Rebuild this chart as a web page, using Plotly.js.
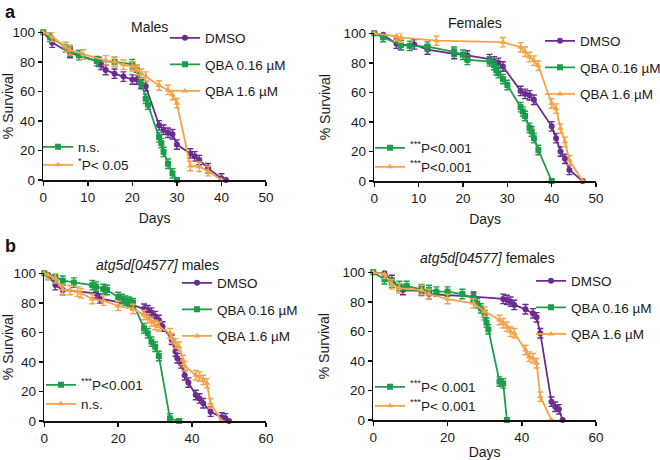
<!DOCTYPE html>
<html><head><meta charset="utf-8">
<script src="https://cdn.plot.ly/plotly-3.0.1.min.js"></script>
<style>html,body{margin:0;padding:0;background:#fff}#chart{width:660px;height:460px}</style>
</head><body><div id="chart"></div><script>
// ---- Panel a, Males ----
const maleDmsoDays = [0,2,6,12.5,13,14,16,18,20,21,22,23,26,27,28,29,30,33,34,35,37,40,41];
const maleDmsoSurv = [100,93,86,80,78,74.5,72,70,68,68,65,63.5,37,34,32,31,24,18,16,13.5,8,1,0];
const maleLowDays = [0,1.5,5,6,8,12,16,20,21,22,23,23.5,26,26.5,27,28,29,30];
const maleLowSurv = [100,97,90,87,84.5,80.5,80,78.5,74.5,66,55,51,29,25,19,11,4.5,0];
const maleHighDays = [0,2,5,6,9,14,16,18,20,21,22,23,26,28,29,30,33,35,37,40];
const maleHighSurv = [100,97,90,88,85,81,80,78,77,74.5,72,70,64,61,57.5,52,9.5,9,6,0];
// ---- Panel a, Females ----
const femDmsoDays = [0,2,5,6,9,12,18,21,26,27,28,29,33,34,35,36,40,41,42,43,44,47];
const femDmsoSurv = [100,99,93,92,92.5,89,86,85,82.5,81,80,77.5,61,59,58,55,37,29,20,15,7.5,0];
const femLowDays = [0,2,6,8,12,18,20,21,26,27,27.5,28,29,30,33,33.5,34,35,35.5,36,37,40];
const femLowSurv = [100,97.5,92,91.5,91,87.5,85.5,82,81,78.5,75,73,69,65,50,47,44,36,33.5,29,21,0];
const femHighDays = [0,5,6,14,29,33,34,35,36,37,40,41,42,43,44,47];
const femHighSurv = [100,98,97,95,94,90.5,87.5,84,81.5,78,52.5,49,35.5,26.5,14,0];
// ---- Panel b, atg5d males ----
const atgMaleDmsoDays = [0,1,3,5,14,15,24,27,28,29,30,31,32,34.5,35.5,36,37,38,39,41,42,43,45,48,49,50];
const atgMaleDmsoSurv = [100,99,92,88.7,86.5,83,78.5,76,75,73.4,71,68.4,64,55,47,42.5,39,31,26,17.6,15.3,12,6.3,2.5,1.8,0];
const atgMaleLowDays = [0,3,5,8,13,14,16,17,20,21,22,23,24,27,28,29,30,31,34,36.5];
const atgMaleLowSurv = [100,97.7,95,93.7,92,91,89.4,88.7,84,82.6,81.5,80.8,79.7,62.8,59.4,53.7,50.3,44,1.8,0];
const atgMaleHighDays = [0,1,3,5,7,9,10,13,16,20,24,27,28,29,30,31,34,34.5,35.5,36.5,37.5,38,41,42,43,44,45,48];
const atgMaleHighSurv = [100,99,96.6,89,88.7,87.6,86.5,82.6,81.5,77.9,75.8,71.8,69.5,67.3,65,64,59.4,56,52.6,50.3,41.3,37.2,31,30,27.8,25.5,12,0];
// ---- Panel b, atg5d females ----
const atgFemDmsoDays = [0,3,5,8,13,15,27,35,36,37,38,41,43,44,45,48,49,50,51];
const atgFemDmsoSurv = [100,99.3,94.8,88,87.4,85.3,83.5,82,81.3,80.1,77.9,75,72.2,69.5,58.7,12.4,9,7.2,0];
const atgFemLowDays = [0,3,5,7,9,13,15,17,20,24,27,28,29,30,30.5,31,34,35,36];
const atgFemLowSurv = [100,95.3,93,90.7,90.7,88.5,88,86.9,86.9,85.3,82.4,79,75.6,71,65.9,61.4,26,24.8,0];
const atgFemHighDays = [0,3,5,7,13,15,20,27,30,34,35,36,37,38,41,42,43,44,45,48];
const atgFemHighSurv = [100,98.9,91.9,89.2,88,85.3,81.9,79,73.4,67.7,65.5,63.2,59.8,58.7,47.4,42.9,41.8,38.4,15.8,0];

const seriesNames = ['DMSO', 'QBA 0.16 µM', 'QBA 1.6 µM'];
const statsLabels = [
  ['n.s.', '<sup>*</sup>P< 0.05'],
  ['<sup>***</sup>P<0.001', '<sup>***</sup>P<0.001'],
  ['<sup>***</sup>P<0.001', 'n.s.'],
  ['<sup>***</sup>P< 0.001', '<sup>***</sup>P< 0.001']
];
const panelTitles = ['Males', 'Females', '<i>atg5d[04577]</i> males', '<i>atg5d[04577]</i> females'];
const xTickSets = [[0,10,20,30,40,50],[0,10,20,30,40,50],[0,20,40,60],[0,20,40,60]];
const xMax = [50, 50, 60, 60];

const PURPLE = '#6a2c8f', GREEN = '#1a9e4a', ORANGE = '#f6a248';
const colors = [PURPLE, GREEN, ORANGE];
const symbols = ['circle', 'square', 'triangle-up'];
const FONT = 'Arial, "Liberation Sans", sans-serif';

const panels = [
  [[maleDmsoDays, maleDmsoSurv],[maleLowDays, maleLowSurv],[maleHighDays, maleHighSurv]],
  [[femDmsoDays, femDmsoSurv],[femLowDays, femLowSurv],[femHighDays, femHighSurv]],
  [[atgMaleDmsoDays, atgMaleDmsoSurv],[atgMaleLowDays, atgMaleLowSurv],[atgMaleHighDays, atgMaleHighSurv]],
  [[atgFemDmsoDays, atgFemDmsoSurv],[atgFemLowDays, atgFemLowSurv],[atgFemHighDays, atgFemHighSurv]]
];

const W = 660, H = 460;
// plot boxes in pixels: [left, right, top, bottom]
const boxes = [[43.3,266,32.3,180],[374.3,596,33.3,181],[44.3,266,273.3,421],[373.3,596,272.3,420]];
// legend placement: [textLeftPx, firstItemCenterPx]
const mainLegPos = [[203,37],[578,40],[215,282],[569,280]];
// stats legend items: [textLeftPx, centerPx1, centerPx2]
const statLegPos = [[76,146,164],[408,147,166],[79,384,403],[408,386,405]];
// panel title centers [x, y]
const titlePos = [[149,27],[475,23],[157,265],[487,258]];

const traces = [];
const layout = {
  width: W, height: H,
  margin: {l:0, r:0, t:0, b:0, autoexpand:false},
  paper_bgcolor: '#fff', plot_bgcolor: 'rgba(0,0,0,0)',
  font: {family: FONT, size: 13.5, color: '#1a1a1a'},
  annotations: [], showlegend: true
};

function semFor(y){ return y.map(v => (v >= 100 || v <= 0) ? 0 : 3.2); }
const LEG_TXT = 38, LEG_TOP = 14.5;

panels.forEach((pan, p) => {
  const ax = p === 0 ? '' : String(p+1);
  const xa = 'x' + ax, ya = 'y' + ax;
  const legMain = 'legend' + (p === 0 ? '' : String(3*p+1));
  const legStats = ['legend' + String(3*p+2), 'legend' + String(3*p+3)];
  pan.forEach((s, i) => {
    traces.push({
      type:'scatter', mode:'lines+markers', x:s[0], y:s[1], name:seriesNames[i],
      xaxis:xa, yaxis:ya, legend:legMain, legendgroup:'p'+p+'s'+i, cliponaxis:false,
      line:{color:colors[i], width:1.8},
      marker:{color:colors[i], symbol:symbols[i], size:6},
      error_y:{type:'data', array:semFor(s[1]), color:colors[i], thickness:1.4, width:3}
    });
  });
  const sp = statLegPos[p];
  [1,2].forEach((i, k) => {
    traces.push({
      type:'scatter', mode:'lines+markers', x:[null], y:[null], name:statsLabels[p][k],
      xaxis:xa, yaxis:ya, legend:legStats[k], hoverinfo:'skip',
      line:{color:colors[i], width:1.8}, marker:{color:colors[i], symbol:symbols[i], size:6}
    });
    layout[legStats[k]] = {
      x:(sp[0]-LEG_TXT)/W, y:1-(sp[k+1]-LEG_TOP)/H, xanchor:'left', yanchor:'top',
      bgcolor:'rgba(0,0,0,0)', font:{size:13.5, family:FONT, color:'#1a1a1a'}, itemclick:false
    };
  });
  const b = boxes[p];
  layout['xaxis' + ax] = {
    domain:[b[0]/W, b[1]/W], anchor:ya, range:[0, xMax[p]], tickvals:xTickSets[p],
    showgrid:false, zeroline:false, showline:true, linecolor:'#111', linewidth:1.5,
    ticks:'outside', ticklen:4, tickwidth:1.5, tickcolor:'#111',
    tickfont:{size:13.5, family:FONT, color:'#1a1a1a'},
    title: p === 2 ? {text:''} : {text:'Days', font:{size:14, family:FONT, color:'#1a1a1a'}, standoff:9}
  };
  layout['yaxis' + ax] = {
    domain:[1 - b[3]/H, 1 - b[2]/H], anchor:xa, range:[0,100], tickvals:[0,20,40,60,80,100],
    showgrid:false, zeroline:false, showline:true, linecolor:'#111', linewidth:1.5,
    ticks:'outside', ticklen:4, tickwidth:1.5, tickcolor:'#111',
    tickfont:{size:13.5, family:FONT, color:'#1a1a1a'},
    title:{text:'% Survival', font:{size:14, family:FONT, color:'#1a1a1a'}, standoff:9}
  };
  const mp = mainLegPos[p];
  layout[legMain] = {
    x:(mp[0]-LEG_TXT)/W, y:1-(mp[1]-LEG_TOP)/H, xanchor:'left', yanchor:'top',
    bgcolor:'rgba(0,0,0,0)', font:{size:13.5, family:FONT, color:'#1a1a1a'},
    traceorder:'grouped', tracegroupgap:6, itemclick:false
  };
  layout.annotations.push({
    xref:'paper', yref:'paper', x:titlePos[p][0]/W, y:1-titlePos[p][1]/H,
    xanchor:'center', yanchor:'middle', showarrow:false, text:panelTitles[p],
    font:{size:14, family:FONT, color:'#1a1a1a'}
  });
});
layout.annotations.push({xref:'paper', yref:'paper', x:3/W, y:1, xanchor:'left', yanchor:'top',
  showarrow:false, text:'<b>a</b>', font:{size:18, family:FONT, color:'#111'}});
layout.annotations.push({xref:'paper', yref:'paper', x:3/W, y:1-234/H, xanchor:'left', yanchor:'top',
  showarrow:false, text:'<b>b</b>', font:{size:18, family:FONT, color:'#111'}});

Plotly.newPlot('chart', traces, layout, {displayModeBar:false, staticPlot:true});
</script></body></html>
